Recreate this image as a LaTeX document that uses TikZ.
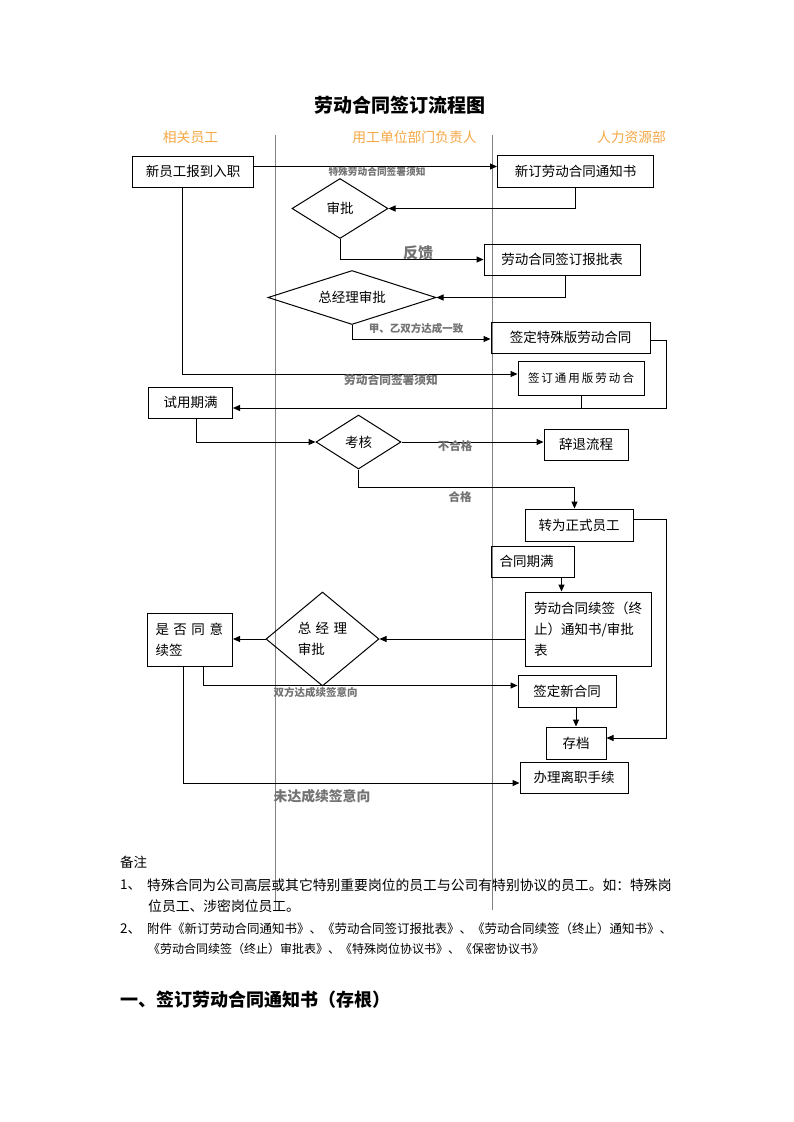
\documentclass[tikz,border=0pt]{standalone}
\usepackage{fontspec}
\setmainfont{Noto Sans CJK SC}
\usetikzlibrary{shapes.geometric,arrows.meta,calc}
\definecolor{lanecol}{RGB}{245,168,70}
\definecolor{labgray}{RGB}{115,115,115}
\definecolor{linegray}{RGB}{130,130,130}
\begin{document}
\begin{tikzpicture}[x=1pt,y=-1pt,
  box/.style={draw=black, line width=1pt, inner sep=0pt, font=\fontsize{13.5}{21}\selectfont},
  dia/.style={draw=black, line width=1pt, diamond, inner sep=0pt, font=\fontsize{13.5}{21}\selectfont},
  conn/.style={line width=1pt, -{Triangle[length=7pt,width=6pt]}},
  plain/.style={line width=1pt},
  laneline/.style={draw=linegray, line width=0.9pt},
  lab/.style={text=labgray, inner sep=0pt, font=\bfseries\fontsize{#1}{#1}\selectfont},
  lane/.style={text=lanecol, inner sep=0pt, font=\fontsize{13.8}{14}\selectfont},
  note/.style={anchor=west, inner sep=0pt, font=\fontsize{#1}{#1}\selectfont}
]
\fill[white] (0,0) rectangle (793,1122);
\useasboundingbox (0,0) rectangle (793,1122);

% title and lane headers
\node[inner sep=0pt, font=\bfseries\fontsize{19}{22}\selectfont] (title) at (400,105) {劳动合同签订流程图};
\node[lane] (h1) at (190.5,137) {相关员工};
\node[lane] (h2) at (414.5,137) {用工单位部门负责人};
\node[lane] (h3) at (631.5,137) {人力资源部};

% lane separators
\draw[laneline] (275,135) -- (275,910);
\draw[laneline] (492,135) -- (492,910);

% boxes
\node[box, minimum width=121, minimum height=31] (A) at (193,171.5) {新员工报到入职};
\node[box, minimum width=156, minimum height=32] (B) at (575.5,171.5) {新订劳动合同通知书};
\node[box, minimum width=156, minimum height=31] (C) at (562,259.5) {劳动合同签订报批表};
\node[box, minimum width=159, minimum height=31] (D) at (570.5,337.5) {签定特殊版劳动合同};
\node[box, minimum width=126, minimum height=34, font=\fontsize{11.5}{14}\selectfont] (E) at (581,378.5)
  {签\hspace{2pt}订\hspace{2pt}通\hspace{2pt}用\hspace{2pt}版\hspace{2pt}劳\hspace{2pt}动\hspace{2pt}合};
\node[box, minimum width=84, minimum height=31] (F) at (190.5,402.5) {试用期满};
\node[box, minimum width=84, minimum height=31] (G) at (586,444.5) {辞退流程};
\node[box, minimum width=108, minimum height=32] (H) at (579,525) {转为正式员工};
\node[box, text width=67, inner xsep=8pt, minimum height=31, align=left] (I) at (533,561.5) {合同期满};
\node[box, text width=108, inner xsep=9pt, minimum height=74, align=left] (J) at (588,629)
  {劳动合同续签（终\\止）通知书/审批\\表};
\node[box, text width=69, inner xsep=8pt, minimum height=53, align=left] (K) at (190,639.5)
  {是\hspace{4.5pt}否\hspace{4.5pt}同\hspace{4.5pt}意\\续签};
\node[box, minimum width=98, minimum height=32] (L) at (567,691) {签定新合同};
\node[box, minimum width=60, minimum height=32] (M) at (576,743) {存档};
\node[box, minimum width=108, minimum height=31] (N) at (574,777.5) {办理离职手续};

% decisions
\node[dia, minimum width=96, minimum height=60] (D1) at (340,208.5) {审批};
\node[dia, minimum width=168, minimum height=54, shape aspect=3] (D2) at (352,297.5) {总经理审批};
\node[dia, minimum width=85, minimum height=54] (D3) at (358.5,442) {考核};
\node[dia, minimum width=113, minimum height=94, align=left] (D4) at (322.5,639)
  {总\hspace{4.5pt}经\hspace{4.5pt}理\\审批};

% connectors
\draw[conn] ($(A.east)+(0,-5)$) -- ($(B.west)+(0,-5)$);
\draw[conn] (B.south) |- (D1.east);
\draw[conn] (D1.south) |- (C.west);
\draw[conn] ($(C.south)+(3,0)$) |- (D2.east);
\draw[conn] (D2.south) |- ($(D.west)+(0,1.5)$);
\draw[conn] ($(A.south)+(-10.5,0)$) |- ($(E.west)+(0,-4.5)$);
\coordinate (DR) at ($(D.east)+(15.5,2.5)$);
\draw[conn] ($(D.east)+(0,2.5)$) -- (DR) |- ($(F.east)+(0,5.5)$);
\draw[plain] (E.south) -- ++(0,12.5);
\draw[conn] ($(F.south)+(5.5,0)$) |- (D3.west);
\draw[conn] (D3.east) -- (D3.east -| G.west);
\draw[conn] (D3.south) |- ($(H.north)+(-4.5,-21)$) -- ($(H.north)+(-4.5,0)$);
\coordinate (HR) at ($(H.east)+(33,-6)$);
\draw[conn] ($(H.east)+(0,-6)$) -- (HR) |- ($(M.east)+(0,-5)$);
\coordinate (Ix) at ($(I.south east)+(-13.5,0)$);
\draw[conn] (Ix) -- (Ix |- J.north);
\draw[conn] (D4.east -| J.west) -- (D4.east);
\draw[conn] (D4.west) -- (D4.west -| K.east);
\draw[conn] ($(K.south)+(13,0)$) |- ($(L.west)+(0,-5.5)$);
\draw[conn] ($(K.south)+(-6.5,0)$) |- ($(N.west)+(0,5.5)$);
\draw[conn] (M.north |- L.south) -- (M.north);

% connector labels
\node[lab=9.7] (l1) at (377,172) {特殊劳动合同签署须知};
\node[lab=15] (l2) at (418,253) {反馈};
\node[lab=10.5] (l3) at (416,328) {甲、乙双方达成一致};
\node[lab=11.7] (l4) at (391,380) {劳动合同签署须知};
\node[lab=11.5] (l5) at (455,446) {不合格};
\node[lab=11.5] (l6) at (460,497) {合格};
\node[lab=10.5] (l7) at (315.5,692) {双方达成续签意向};
\node[lab=13.8] (l8) at (322,796) {未达成续签意向};

% notes
\node[note=13.5] (n0) at (120,862) {备注};
\node[note=13.5] (n1a) at (120,885) {1、};
\node[note=13.8] (n1b) at (147,885) {特殊合同为公司高层或其它特别重要岗位的员工与公司有特别协议的员工。如：特殊岗};
\node[note=13.8] (n2) at (148,906) {位员工、涉密岗位员工。};
\node[note=13.5] (n3a) at (120,929) {2、};
\node[note=12.5] (n3b) at (147,929) {附件《新订劳动合同通知书》、《劳动合同签订报批表》、《劳动合同续签（终止）通知书》、};
\node[note=12] (n4) at (148,949) {《劳动合同续签（终止）审批表》、《特殊岗位协议书》、《保密协议书》};

\node[anchor=west, inner sep=0pt, font=\bfseries\fontsize{18}{18}\selectfont] (sec) at (120,1000) {一、签订劳动合同通知书（存根）};
\end{tikzpicture}
\end{document}
